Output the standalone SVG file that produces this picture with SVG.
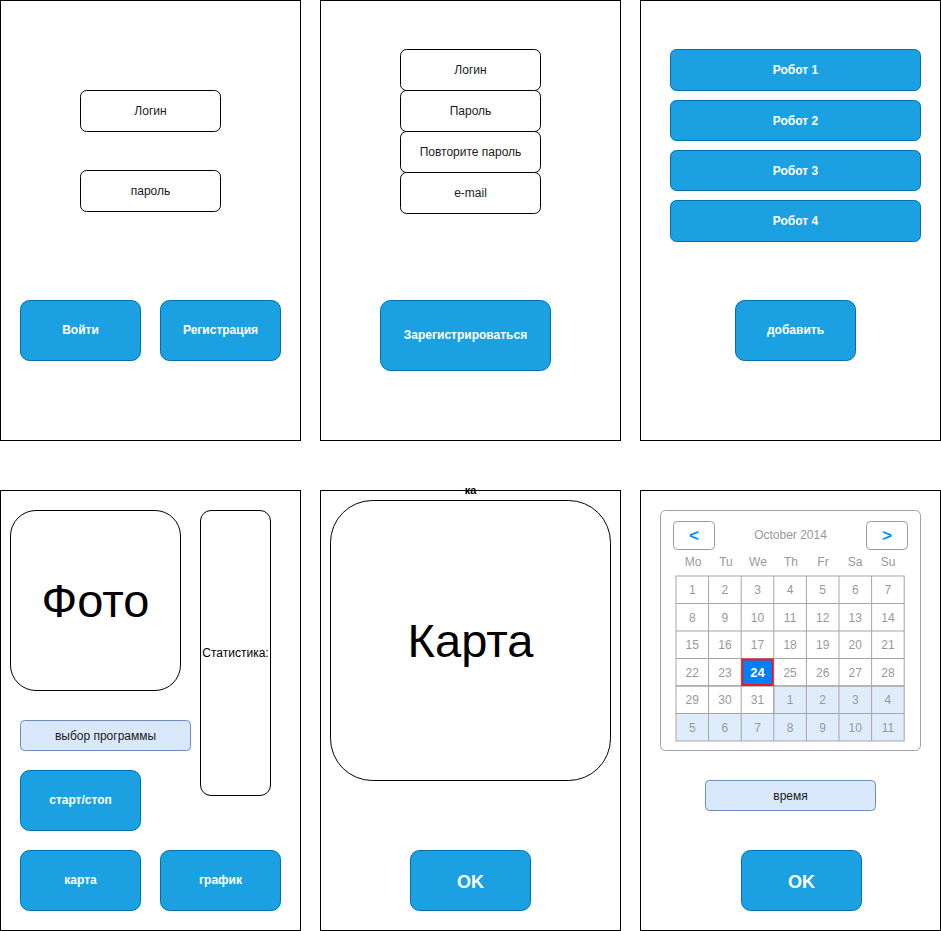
<svg xmlns="http://www.w3.org/2000/svg" width="941" height="931" viewBox="0 0 941 931">
<style>
text{font-family:"Liberation Sans",Arial,Helvetica,sans-serif;text-anchor:middle}
.panel{fill:#fff;stroke:#000;stroke-width:1}
.field{fill:#fff;stroke:#000;stroke-width:1}
.btn{fill:#1ba1e2;stroke:#006eaf;stroke-width:1}
.sel{fill:#dae8fc;stroke:#6c8ebf;stroke-width:1}
.t{font-size:12px;fill:#1a1a1a}
.bt{font-size:12px;font-weight:bold;fill:#fff}
.big{font-size:47px;fill:#000}
.ok{font-size:18px;font-weight:bold;fill:#fff}
.cal{fill:#fff;stroke:#a0a0a0;stroke-width:1}
.nav{fill:#fff;stroke:#999;stroke-width:1}
.arr{font-size:17px;font-weight:bold;fill:#008cff}
.ct{font-size:12px;fill:#999}
.cell{fill:#fff;stroke:#a6a6a6;stroke-width:1}
.cellb{fill:#dfecfc;stroke:#a6a6a6;stroke-width:1}
</style>

<g id="screen-login">
<rect class="panel" x="0.5" y="0.5" width="300" height="440"/>
<g id="login-field"><rect class="field" x="80.5" y="90.5" width="140" height="41" rx="6"/><text class="t" x="150.5" y="115">Логин</text></g>
<g id="password-field"><rect class="field" x="80.5" y="170.5" width="140" height="41" rx="6"/><text class="t" x="150.5" y="195">пароль</text></g>
<g id="btn-login"><rect class="btn" x="20.5" y="300.5" width="120" height="60" rx="9"/><text class="bt" x="80.5" y="333.5">Войти</text></g>
<g id="btn-register"><rect class="btn" x="160.5" y="300.5" width="120" height="60" rx="9"/><text class="bt" x="220.5" y="333.5">Регистрация</text></g>
</g>

<g id="screen-register">
<rect class="panel" x="320.5" y="0.5" width="300" height="440"/>
<g id="reg-login"><rect class="field" x="400.5" y="49.5" width="140" height="41" rx="6"/><text class="t" x="470.5" y="74">Логин</text></g>
<g id="reg-pass"><rect class="field" x="400.5" y="90.5" width="140" height="41" rx="6"/><text class="t" x="470.5" y="115">Пароль</text></g>
<g id="reg-pass2"><rect class="field" x="400.5" y="131.5" width="140" height="41" rx="6"/><text class="t" x="470.5" y="156">Повторите пароль</text></g>
<g id="reg-email"><rect class="field" x="400.5" y="172.5" width="140" height="41" rx="6"/><text class="t" x="470.5" y="197">e-mail</text></g>
<g id="btn-do-register"><rect class="btn" x="380.5" y="300.5" width="170" height="70" rx="10"/><text class="bt" x="465.5" y="338.5">Зарегистрироваться</text></g>
</g>

<g id="screen-robots">
<rect class="panel" x="640.5" y="0.5" width="300" height="440"/>
<g id="robot1"><rect class="btn" x="670.5" y="49.5" width="250" height="41" rx="6"/><text class="bt" x="795.5" y="74">Робот 1</text></g>
<g id="robot2"><rect class="btn" x="670.5" y="100.5" width="250" height="40" rx="6"/><text class="bt" x="795.5" y="124.5">Робот 2</text></g>
<g id="robot3"><rect class="btn" x="670.5" y="150.5" width="250" height="40" rx="6"/><text class="bt" x="795.5" y="174.5">Робот 3</text></g>
<g id="robot4"><rect class="btn" x="670.5" y="200.5" width="250" height="41" rx="6"/><text class="bt" x="795.5" y="225">Робот 4</text></g>
<g id="btn-add"><rect class="btn" x="735.5" y="300.5" width="120" height="60" rx="9"/><text class="bt" x="795.5" y="333.5">добавить</text></g>
</g>

<g id="screen-control">
<rect class="panel" x="0.5" y="490.5" width="300" height="440"/>
<g id="photo"><rect class="field" x="10.5" y="510.5" width="170" height="180" rx="25.5"/><text class="big" x="95.5" y="617">Фото</text></g>
<g id="stats"><rect class="field" x="200.5" y="510.5" width="70" height="285" rx="10.5"/><text class="t" x="235.5" y="657" style="fill:#000">Статистика:</text></g>
<g id="program-select"><rect class="sel" x="20.5" y="720.5" width="170" height="30" rx="4"/><text class="t" x="105.5" y="739.5">выбор программы</text></g>
<g id="btn-startstop"><rect class="btn" x="20.5" y="770.5" width="120" height="60" rx="9"/><text class="bt" x="80.5" y="803.5">старт/стоп</text></g>
<g id="btn-map"><rect class="btn" x="20.5" y="850.5" width="120" height="60" rx="9"/><text class="bt" x="80.5" y="883.5">карта</text></g>
<g id="btn-chart"><rect class="btn" x="160.5" y="850.5" width="120" height="60" rx="9"/><text class="bt" x="220.5" y="883.5">график</text></g>
</g>

<g id="screen-map">
<rect class="panel" x="320.5" y="490.5" width="300" height="440"/>
<text x="470.5" y="494" style="font-size:11px;font-weight:bold;fill:#000">ка</text>
<g id="map"><rect class="field" x="330.5" y="500.5" width="280" height="280" rx="42"/><text class="big" x="470.5" y="657">Карта</text></g>
<g id="btn-ok-map"><rect class="btn" x="410.5" y="850.5" width="120" height="60" rx="9"/><text class="ok" x="470.5" y="888">OK</text></g>
</g>

<g id="screen-calendar">
<rect class="panel" x="640.5" y="490.5" width="300" height="440"/>
<g id="calendar">
<rect class="cal" x="660.5" y="510.5" width="260" height="240" rx="5"/>
<rect class="nav" x="673.5" y="521.5" width="41" height="28" rx="4"/><text class="arr" x="694" y="541">&lt;</text>
<rect class="nav" x="866.5" y="521.5" width="41" height="28" rx="4"/><text class="arr" x="887" y="541">&gt;</text>
<text class="ct" x="790.5" y="539">October 2014</text>
<g class="ct">
<text class="ct" x="693" y="566">Mo</text><text class="ct" x="726" y="566">Tu</text><text class="ct" x="758" y="566">We</text><text class="ct" x="791" y="566">Th</text><text class="ct" x="823" y="566">Fr</text><text class="ct" x="855" y="566">Sa</text><text class="ct" x="888" y="566">Su</text>
</g>
<g id="grid">
<rect class="cell" x="676" y="576" width="228.2" height="110"/>
<rect class="cell" x="676" y="686" width="97.8" height="27.5"/>
<rect class="cellb" x="773.8" y="686" width="130.4" height="27.5"/>
<rect class="cellb" x="676" y="713.5" width="228.2" height="27.5"/>
<path d="M708.6 576V741M741.2 576V741M773.8 576V741M806.4 576V741M839 576V741M871.6 576V741M676 603.5H904.2M676 631H904.2M676 658.5H904.2M676 686H904.2M676 713.5H904.2" fill="none" stroke="#a6a6a6" stroke-width="1"/>
<rect x="742.2" y="659.5" width="30.6" height="25.5" fill="#007fff" stroke="#e51c23" stroke-width="2"/>
</g>
<g id="days">
<text class="ct" x="692.3" y="594">1</text><text class="ct" x="724.9" y="594">2</text><text class="ct" x="757.5" y="594">3</text><text class="ct" x="790.1" y="594">4</text><text class="ct" x="822.7" y="594">5</text><text class="ct" x="855.3" y="594">6</text><text class="ct" x="887.9" y="594">7</text>
<text class="ct" x="692.3" y="621.5">8</text><text class="ct" x="724.9" y="621.5">9</text><text class="ct" x="757.5" y="621.5">10</text><text class="ct" x="790.1" y="621.5">11</text><text class="ct" x="822.7" y="621.5">12</text><text class="ct" x="855.3" y="621.5">13</text><text class="ct" x="887.9" y="621.5">14</text>
<text class="ct" x="692.3" y="649">15</text><text class="ct" x="724.9" y="649">16</text><text class="ct" x="757.5" y="649">17</text><text class="ct" x="790.1" y="649">18</text><text class="ct" x="822.7" y="649">19</text><text class="ct" x="855.3" y="649">20</text><text class="ct" x="887.9" y="649">21</text>
<text class="ct" x="692.3" y="676.5">22</text><text class="ct" x="724.9" y="676.5">23</text><text x="757.5" y="677" style="font-size:13px;font-weight:bold;fill:#fff">24</text><text class="ct" x="790.1" y="676.5">25</text><text class="ct" x="822.7" y="676.5">26</text><text class="ct" x="855.3" y="676.5">27</text><text class="ct" x="887.9" y="676.5">28</text>
<text class="ct" x="692.3" y="704">29</text><text class="ct" x="724.9" y="704">30</text><text class="ct" x="757.5" y="704">31</text><text class="ct" x="790.1" y="704">1</text><text class="ct" x="822.7" y="704">2</text><text class="ct" x="855.3" y="704">3</text><text class="ct" x="887.9" y="704">4</text>
<text class="ct" x="692.3" y="731.5">5</text><text class="ct" x="724.9" y="731.5">6</text><text class="ct" x="757.5" y="731.5">7</text><text class="ct" x="790.1" y="731.5">8</text><text class="ct" x="822.7" y="731.5">9</text><text class="ct" x="855.3" y="731.5">10</text><text class="ct" x="887.9" y="731.5">11</text>
</g>
</g>
<g id="time-select"><rect class="sel" x="705.5" y="780.5" width="170" height="30" rx="4"/><text class="t" x="790.5" y="799.5">время</text></g>
<g id="btn-ok-cal"><rect class="btn" x="741.5" y="850.5" width="120" height="60" rx="9"/><text class="ok" x="801.5" y="888">OK</text></g>
</g>

<g id="connectors"></g>
</svg>
